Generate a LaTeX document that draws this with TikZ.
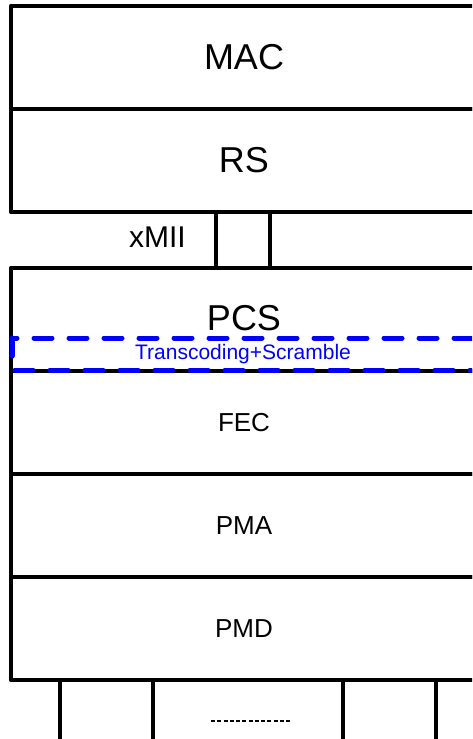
\documentclass[tikz,border=0pt]{standalone}
\usepackage{fontspec}
\setmainfont{Liberation Sans}
\usepackage{tikz}
\usetikzlibrary{positioning}

\begin{document}
\begin{tikzpicture}[x=1pt, y=-1pt,
    layer/.style={rectangle, draw, line width=4.6pt, line join=round, inner sep=0pt,
                  outer sep=0pt, minimum width=466pt, minimum height=103pt, align=center},
    big/.style={font=\fontsize{36}{40}\selectfont},
    small/.style={font=\fontsize{26}{30}\selectfont},
    leg/.style={line width=4.6pt}
]
\useasboundingbox (0,0) rectangle (472,739);
\clip (0,0) rectangle (472,739);
% upper layers
\node[layer, big] (mac) at (244,57.5)  {MAC};
\node[layer, big] (rs)  at (244,160.5) {RS};
\node[layer, minimum width=54pt, minimum height=56pt] (xmii) at (243,240) {};
\node[font=\fontsize{30}{34}\selectfont, anchor=base east, inner sep=0pt] (xmiilbl) at (186,247) {xMII};
% lower layers
\node[layer, big]   (pcs) at (244,319.5) {\raisebox{4pt}{PCS}};
\node[layer, small] (fec) at (244,422.5) {FEC};
\node[layer, small] (pma) at (244,525.5) {PMA};
\node[layer, small] (pmd) at (244,628.5) {PMD};
% transcoding sublayer
\draw[blue, line width=5pt, line cap=round, dash pattern=on 18pt off 17pt]
    (12,338) rectangle (490,370);
\node[blue, font=\fontsize{21}{24}\selectfont] (tsc) at (243,354) {Transcoding+Scramble};
% media legs
\foreach \i/\x in {1/60, 2/153, 3/343, 4/436}{
    \coordinate (leg\i) at (\x,745);
    \draw[leg] (leg\i |- pmd.south) -- (leg\i);
}
\coordinate (dotl) at (211,721);
\coordinate (dotr) at (292,721);
\draw[line width=2pt, dash pattern=on 4pt off 2.25pt] (dotl) -- (dotr);
\end{tikzpicture}
\end{document}
